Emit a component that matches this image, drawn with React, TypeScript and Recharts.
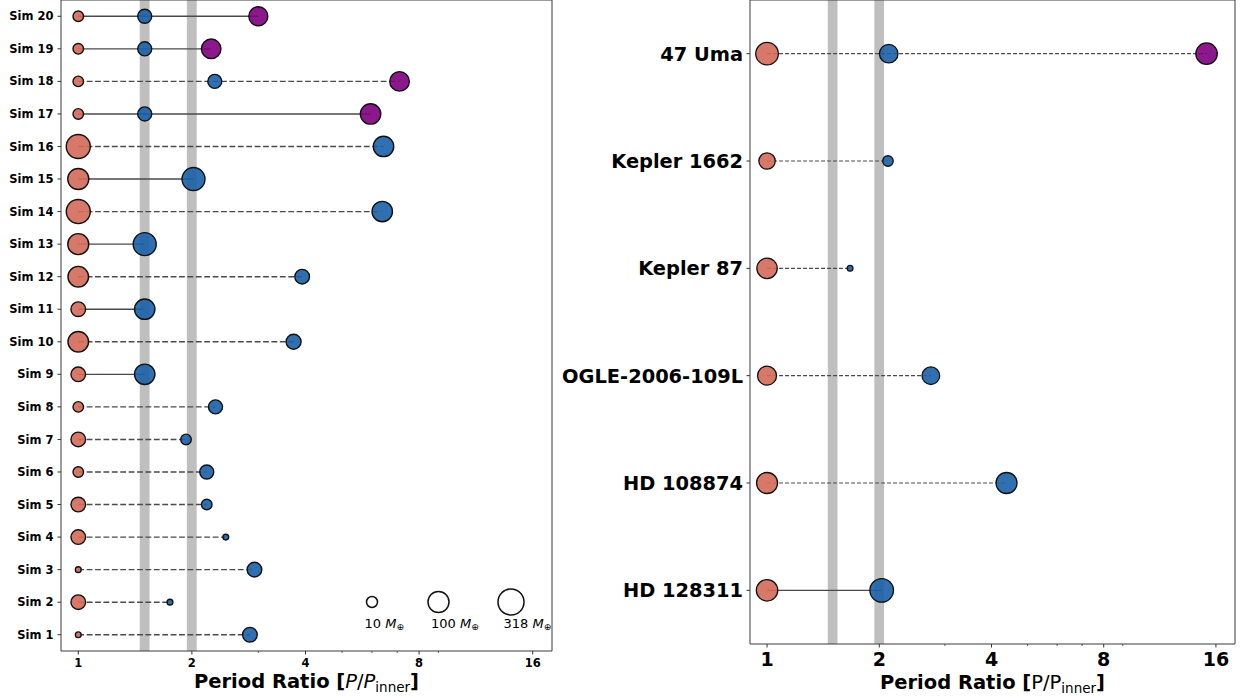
import React from "react";
import { ReferenceArea, Scatter, ScatterChart, XAxis, YAxis } from "recharts";

// left panel: simulated systems, inner planet first
const simLabels = [
  "Sim 1", "Sim 2", "Sim 3", "Sim 4", "Sim 5", "Sim 6", "Sim 7", "Sim 8", "Sim 9", "Sim 10",
  "Sim 11", "Sim 12", "Sim 13", "Sim 14", "Sim 15", "Sim 16", "Sim 17", "Sim 18", "Sim 19", "Sim 20",
];
const simRatios = [
  [1, 2.85],
  [1, 1.75],
  [1, 2.93],
  [1, 2.46],
  [1, 2.19],
  [1, 2.19],
  [1, 1.93],
  [1, 2.31],
  [1, 1.5],
  [1, 3.72],
  [1, 1.5],
  [1, 3.92],
  [1, 1.5],
  [1, 6.39],
  [1, 2.02],
  [1, 6.44],
  [1, 1.5, 5.95],
  [1, 2.3, 7.1],
  [1, 1.5, 2.25],
  [1, 1.5, 3.0],
];
// masses in Earth masses
const simMasses = [
  [3, 23],
  [23, 3],
  [3, 23],
  [23, 3],
  [23, 9],
  [9, 20],
  [23, 9],
  [9, 20],
  [23, 87],
  [91, 25],
  [23, 87],
  [91, 23],
  [100, 158],
  [200, 87],
  [100, 158],
  [200, 87],
  [9, 20, 87],
  [9, 20, 72],
  [9, 20, 72],
  [9, 20, 63],
];
const simResonant = [
  false, false, false, false, false, false, false, false, true, false,
  true, false, true, false, true, false, true, false, true, true,
];

// right panel: observed systems, top to bottom
const systemNames = ["47 Uma", "Kepler 1662", "Kepler 87", "OGLE-2006-109L", "HD 108874", "HD 128311"];
const systemRatios = [
  [1, 2.12, 15.1],
  [1, 2.11],
  [1, 1.67],
  [1, 2.75],
  [1, 4.39],
  [1, 2.03],
];
const systemMasses = [
  [145, 57, 110],
  [35, 9],
  [87, 3],
  [63, 46],
  [100, 100],
  [110, 182],
];
const systemResonant = [false, false, false, false, false, true];

const resonanceBands = [
  [1.455, 1.545],
  [1.94, 2.06],
];
const majorTicks = [1, 2, 4, 8, 16];
const minorTicks = [3, 5, 6, 7, 9];
const legendMasses = [10, 100, 318];

const planetColors = ["#d46959", "#1a61a9", "#800080"];
const FONT = "DejaVu Sans";
const X_DOMAIN: [number, number] = [0.9, 18];

const radius = (m: number) => 0.5 + 5 * Math.log10(m);

function Planet(props: any) {
  const { cx, cy, payload, sw } = props;
  return (
    <circle
      cx={cx}
      cy={cy}
      r={radius(payload.mass)}
      fill={payload.color}
      fillOpacity={0.9}
      stroke="#111"
      strokeWidth={sw}
    />
  );
}

function LogTick(props: any) {
  const { x, y, payload, fs, gap } = props;
  const major = majorTicks.includes(payload.value);
  const top = y - gap;
  return (
    <g>
      <line x1={x} x2={x} y1={top} y2={top + (major ? 3.5 : 2)} stroke="#333" strokeWidth={major ? 1 : 0.8} />
      {major && (
        <text x={x} y={y} dy="0.71em" textAnchor="middle" fontSize={fs} fontWeight="bold" fontFamily={FONT} fill="#000">
          {payload.value}
        </text>
      )}
    </g>
  );
}

interface PanelProps {
  labels: string[];
  ratios: number[][];
  masses: number[][];
  resonant: boolean[];
  topDown: boolean;
  width: number;
  height: number;
  yWidth: number;
  xHeight: number;
  right: number;
  yFont: number;
  xFont: number;
  xTickMargin: number;
  yTickMargin: number;
  dash: string;
  lineWidth: number;
  markerStroke: number;
}

function Panel(p: PanelProps) {
  const n = p.labels.length;
  const rowY = (i: number) => (p.topDown ? n - i : i + 1);
  const yTicks = p.labels.map((_, i) => i + 1);
  const allTicks = [...majorTicks, ...minorTicks].sort((a, b) => a - b);

  return (
    <ScatterChart width={p.width} height={p.height} margin={{ top: 0, right: p.right, bottom: 0, left: 0 }}>
      <XAxis
        dataKey="x"
        type="number"
        scale="log"
        domain={X_DOMAIN}
        allowDataOverflow
        ticks={allTicks}
        interval={0}
        height={p.xHeight}
        axisLine={false}
        tickLine={false}
        tickSize={3.5}
        tickMargin={p.xTickMargin}
        tick={(t: any) => <LogTick {...t} fs={p.xFont} gap={3.5 + p.xTickMargin} />}
      />
      <YAxis
        dataKey="y"
        type="number"
        domain={[0.5, n + 0.5]}
        allowDataOverflow
        ticks={yTicks}
        interval={0}
        width={p.yWidth}
        axisLine={false}
        tickSize={3.5}
        tickMargin={p.yTickMargin}
        stroke="#333"
        tick={{ fontSize: p.yFont, fontWeight: "bold", fill: "#000", fontFamily: FONT }}
        tickFormatter={(v: number) => (p.topDown ? p.labels[n - v] : p.labels[v - 1])}
      />
      {resonanceBands.map(([a, b], i) => (
        <ReferenceArea key={`band${i}`} x1={a} x2={b} fill="#bfbfbf" fillOpacity={1} stroke="none" />
      ))}
      {p.ratios.map((row, i) => (
        <Scatter
          key={p.labels[i]}
          data={row.map((x, k) => ({ x, y: rowY(i), mass: p.masses[i][k], color: planetColors[k] }))}
          line={{
            stroke: "#4a4a4a",
            strokeWidth: p.lineWidth,
            strokeDasharray: p.resonant[i] ? undefined : p.dash,
          }}
          lineType="joint"
          shape={(s: any) => <Planet {...s} sw={p.markerStroke} />}
          isAnimationActive={false}
        />
      ))}
      <ReferenceArea x1={X_DOMAIN[0]} x2={X_DOMAIN[1]} y1={0.5} y2={n + 0.5} fill="none" stroke="#3a3a3a" strokeWidth={1} />
    </ScatterChart>
  );
}

function AxisTitle(props: { x: number; y: number; italic: boolean }) {
  const style = props.italic ? "italic" : "normal";
  return (
    <text x={props.x} y={props.y} textAnchor="middle" fontSize={19.5} fontWeight="bold" fontFamily={FONT} fill="#000">
      Period Ratio [
      <tspan fontWeight="normal" fontStyle={style}>P</tspan>
      <tspan fontWeight="normal">/</tspan>
      <tspan fontWeight="normal" fontStyle={style}>P</tspan>
      <tspan fontWeight="normal" fontSize={13.5} dy={4}>inner</tspan>
      <tspan dy={-4}>]</tspan>
    </text>
  );
}

export default function App() {
  const legendX = [372, 438.5, 511];
  return (
    <div style={{ position: "absolute", left: 0, top: 0, width: 1248, height: 697, background: "#fff", fontFamily: FONT }}>
      <div style={{ position: "absolute", left: 0, top: 0 }}>
        <Panel
          labels={simLabels}
          ratios={simRatios}
          masses={simMasses}
          resonant={simResonant}
          topDown={false}
          width={560}
          height={697}
          yWidth={61}
          xHeight={46}
          right={8}
          yFont={11.5}
          xFont={11.5}
          xTickMargin={4}
          yTickMargin={4}
          dash="5.8 2.6"
          lineWidth={1.4}
          markerStroke={1.4}
        />
      </div>
      <div style={{ position: "absolute", left: 555, top: 0 }}>
        <Panel
          labels={systemNames}
          ratios={systemRatios}
          masses={systemMasses}
          resonant={systemResonant}
          topDown={true}
          width={693}
          height={697}
          yWidth={195}
          xHeight={53}
          right={13}
          yFont={19.4}
          xFont={19}
          xTickMargin={5}
          yTickMargin={3.5}
          dash="4 2"
          lineWidth={1.2}
          markerStroke={1.3}
        />
      </div>
      <svg width={1248} height={697} style={{ position: "absolute", left: 0, top: 0, pointerEvents: "none" }}>
        <defs>
          <clipPath id="legendClip">
            <rect x={0} y={0} width={552} height={651} />
          </clipPath>
        </defs>
        <g clipPath="url(#legendClip)">
          {legendMasses.map((m, i) => (
            <g key={m}>
              <circle cx={legendX[i]} cy={602} r={radius(m)} fill="#fff" stroke="#111" strokeWidth={1.5} />
              <text x={legendX[i] - 7.5} y={628} fontSize={13} fontFamily={FONT} fill="#000">
                {m} <tspan fontStyle="italic">M</tspan>
                <tspan fontSize={9} dy={2}>⊕</tspan>
              </text>
            </g>
          ))}
        </g>
        <AxisTitle x={306.5} y={688} italic={true} />
        <AxisTitle x={992.5} y={689} italic={false} />
      </svg>
    </div>
  );
}
